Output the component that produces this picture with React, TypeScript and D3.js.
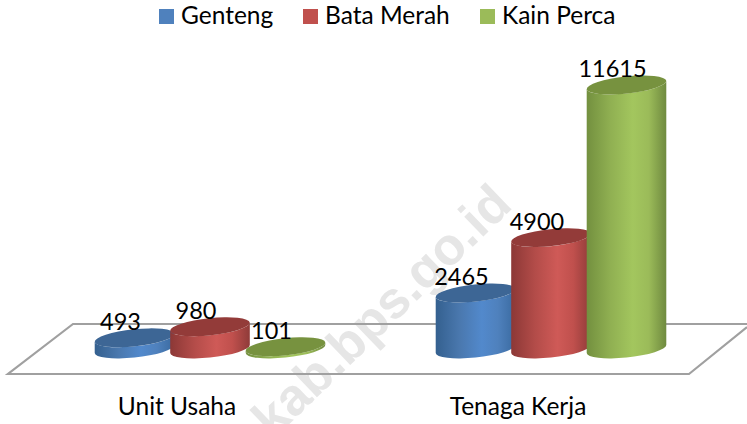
import React from "react";
import * as d3 from "d3";

const categories = ["Unit Usaha", "Tenaga Kerja"];
const seriesNames = ["Genteng", "Bata Merah", "Kain Perca"];
const genteng = [493, 2465];
const bataMerah = [980, 4900];
const kainPerca = [101, 11615];
const seriesValues = [genteng, bataMerah, kainPerca];

const W = 747, H = 424;
const FONT = "Lato, 'Open Sans', sans-serif";
const swatch = ["#4f81bd", "#c0504d", "#9bbb59"];
const topFill = ["#3d6695", "#933b39", "#77923f"];
const stops = [
  ["#34608f", "#4a78ae", "#5289cc", "#4f81bd", "#3a6aa0"],
  ["#8c3836", "#b34c49", "#cf5a57", "#c0504d", "#8f3b39"],
  ["#73903f", "#90b052", "#a3c65e", "#9bbb59", "#6f8a3f"],
];
const stopPos = ["0%", "30%", "58%", "78%", "100%"];

const A = 40, B = 8.5, TILT = -6;
const th = (TILT * Math.PI) / 180;
const halfW = Math.sqrt(A * A * Math.cos(th) ** 2 + B * B * Math.sin(th) ** 2);
const yOff = ((A * A - B * B) * Math.sin(th) * Math.cos(th)) / halfW;

const xGroup = d3.scaleBand<string>().domain(categories).range([39.5, 721.5]);
const xSeries = d3.scalePoint<string>().domain(seriesNames).range([-75.5, 75.5]);
const y = d3.scaleLinear().domain([0, d3.max(kainPerca) as number]).range([349, 85]);
const legendX = d3.scaleOrdinal<string, number>().domain(seriesNames).range([159, 303, 480]);

function body(cx: number, yTop: number, yBase: number) {
  const lx = cx - halfW, rx = cx + halfW;
  return `M${lx},${yTop - yOff}L${lx},${yBase - yOff}A${A},${B},${TILT},0,0,${rx},${yBase + yOff}L${rx},${yTop + yOff}A${A},${B},${TILT},0,1,${lx},${yTop - yOff}Z`;
}

export default function App() {
  return (
    <svg width={W} height={H} viewBox={`0 0 ${W} ${H}`} style={{ position: "absolute", left: 0, top: 0, background: "#fff" }} fontFamily={FONT}>
      <defs>
        {stops.map((s, i) => (
          <linearGradient key={i} id={`g${i}`} x1="0" x2="1" y1="0" y2="0">
            {s.map((c, j) => <stop key={j} offset={stopPos[j]} stopColor={c} />)}
          </linearGradient>
        ))}
      </defs>

      <text transform="translate(514,207) rotate(-44)" textAnchor="end" fontFamily="'Liberation Sans', sans-serif" fontWeight="700" fontSize={52} fill="#e6e6e6">kab.bps.go.id</text>

      <path d="M760,324L73,324L8,374L689,374L747,327" fill="none" stroke="#a0a0a0" strokeWidth={2.2} />

      {categories.map((cat, c) => {
        const gc = (xGroup(cat) as number) + xGroup.bandwidth() / 2;
        return (
          <g key={cat}>
            {seriesNames.map((s, i) => {
              const cx = gc + (xSeries(s) as number);
              const yTop = y(seriesValues[i][c]);
              return (
                <g key={s}>
                  <path d={body(cx, yTop, y(0))} fill={`url(#g${i})`} />
                  <ellipse cx={cx} cy={yTop} rx={A} ry={B} fill={topFill[i]} transform={`rotate(${TILT} ${cx} ${yTop})`} />
                </g>
              );
            })}
            <text x={gc - 33} y={415} textAnchor="middle" fontSize={24.5} fill="#000">{cat}</text>
          </g>
        );
      })}

      {categories.map((cat, c) => {
        const gc = (xGroup(cat) as number) + xGroup.bandwidth() / 2;
        return seriesNames.map((s, i) => (
          <text key={s + cat} x={gc + (xSeries(s) as number) - 14} y={y(seriesValues[i][c]) - 8} textAnchor="middle" fontSize={23.5} fill="#000">
            {seriesValues[i][c]}
          </text>
        ));
      })}

      {seriesNames.map((s, i) => (
        <g key={s}>
          <rect x={legendX(s)} y={9} width={15} height={15} fill={swatch[i]} />
          <text x={legendX(s) + 22} y={24} fontSize={24.5} fill="#000">{s}</text>
        </g>
      ))}
    </svg>
  );
}
